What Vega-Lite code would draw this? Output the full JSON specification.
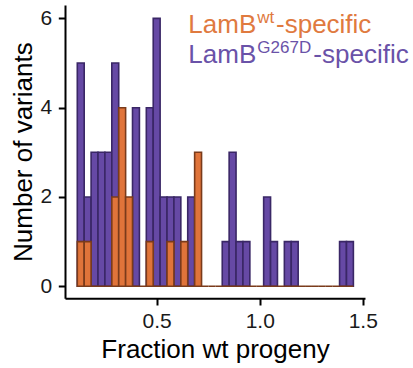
{
  "$schema": "https://vega.github.io/schema/vega-lite/v6.json",
  "width": 300,
  "height": 293.3,
  "autosize": "none",
  "padding": {"left": 65, "top": 5, "right": 48, "bottom": 69.7},
  "background": "white",
  "config": {"view": {"stroke": null}, "font": "Liberation Sans"},
  "datasets": {
    "g267d": [
      {"x0": 0.1146, "x1": 0.1481, "n": 5},
      {"x0": 0.1481, "x1": 0.1816, "n": 2},
      {"x0": 0.1816, "x1": 0.2151, "n": 3},
      {"x0": 0.2151, "x1": 0.2486, "n": 3},
      {"x0": 0.2486, "x1": 0.2821, "n": 3},
      {"x0": 0.2821, "x1": 0.3156, "n": 5},
      {"x0": 0.3826, "x1": 0.4161, "n": 4},
      {"x0": 0.4496, "x1": 0.4831, "n": 4},
      {"x0": 0.4831, "x1": 0.5166, "n": 6},
      {"x0": 0.5166, "x1": 0.5501, "n": 2},
      {"x0": 0.5501, "x1": 0.5836, "n": 2},
      {"x0": 0.5836, "x1": 0.6171, "n": 2},
      {"x0": 0.6506, "x1": 0.6841, "n": 2},
      {"x0": 0.8181, "x1": 0.8516, "n": 1},
      {"x0": 0.8516, "x1": 0.8851, "n": 3},
      {"x0": 0.8851, "x1": 0.9186, "n": 1},
      {"x0": 0.9186, "x1": 0.9521, "n": 1},
      {"x0": 1.0191, "x1": 1.0526, "n": 2},
      {"x0": 1.0526, "x1": 1.0861, "n": 1},
      {"x0": 1.1196, "x1": 1.1531, "n": 1},
      {"x0": 1.1531, "x1": 1.1866, "n": 1},
      {"x0": 1.3876, "x1": 1.4211, "n": 1},
      {"x0": 1.4211, "x1": 1.4546, "n": 1}
    ],
    "wt": [
      {"x0": 0.1146, "x1": 0.1481, "n": 1},
      {"x0": 0.1481, "x1": 0.1816, "n": 1},
      {"x0": 0.1816, "x1": 0.2151, "n": 0},
      {"x0": 0.2151, "x1": 0.2486, "n": 0},
      {"x0": 0.2486, "x1": 0.2821, "n": 0},
      {"x0": 0.2821, "x1": 0.3156, "n": 2},
      {"x0": 0.3156, "x1": 0.3491, "n": 4},
      {"x0": 0.3491, "x1": 0.3826, "n": 2},
      {"x0": 0.3826, "x1": 0.4161, "n": 0},
      {"x0": 0.4161, "x1": 0.4496, "n": 0},
      {"x0": 0.4496, "x1": 0.4831, "n": 1},
      {"x0": 0.4831, "x1": 0.5166, "n": 0},
      {"x0": 0.5166, "x1": 0.5501, "n": 0},
      {"x0": 0.5501, "x1": 0.5836, "n": 1},
      {"x0": 0.5836, "x1": 0.6171, "n": 0},
      {"x0": 0.6171, "x1": 0.6506, "n": 1},
      {"x0": 0.6506, "x1": 0.6841, "n": 0},
      {"x0": 0.6841, "x1": 0.7176, "n": 3},
      {"x0": 0.7176, "x1": 0.7511, "n": 0},
      {"x0": 0.7511, "x1": 0.7846, "n": 0},
      {"x0": 0.7846, "x1": 0.8181, "n": 0},
      {"x0": 0.8181, "x1": 0.8516, "n": 0},
      {"x0": 0.8516, "x1": 0.8851, "n": 0},
      {"x0": 0.8851, "x1": 0.9186, "n": 0},
      {"x0": 0.9186, "x1": 0.9521, "n": 0},
      {"x0": 0.9521, "x1": 0.9856, "n": 0},
      {"x0": 0.9856, "x1": 1.0191, "n": 0},
      {"x0": 1.0191, "x1": 1.0526, "n": 0},
      {"x0": 1.0526, "x1": 1.0861, "n": 0},
      {"x0": 1.0861, "x1": 1.1196, "n": 0},
      {"x0": 1.1196, "x1": 1.1531, "n": 0},
      {"x0": 1.1531, "x1": 1.1866, "n": 0},
      {"x0": 1.1866, "x1": 1.2201, "n": 0},
      {"x0": 1.2201, "x1": 1.2536, "n": 0},
      {"x0": 1.2536, "x1": 1.2871, "n": 0},
      {"x0": 1.2871, "x1": 1.3206, "n": 0},
      {"x0": 1.3206, "x1": 1.3541, "n": 0},
      {"x0": 1.3541, "x1": 1.3876, "n": 0},
      {"x0": 1.3876, "x1": 1.4211, "n": 0},
      {"x0": 1.4211, "x1": 1.4546, "n": 0}
    ]
  },
  "layer": [
    {
      "data": {"name": "g267d"},
      "mark": {"type": "bar", "fill": "#6649A5", "stroke": "#3A2766", "strokeWidth": 1.6},
      "encoding": {
        "x": {
          "field": "x0", "type": "quantitative",
          "scale": {"domain": [0.0549, 1.511], "nice": false, "zero": false},
          "axis": {
            "values": [0.5, 1.0, 1.5], "format": ".1f", "grid": false,
            "domainColor": "black", "domainWidth": 2, "tickColor": "black", "tickWidth": 2, "tickSize": 6.7,
            "labelFontSize": 21, "labelColor": "#1a1a1a", "labelPadding": 5, "labelFlush": false,
            "title": "Fraction wt progeny", "titleFontSize": 26, "titleFontWeight": "normal", "titleColor": "black", "titlePadding": 5
          }
        },
        "x2": {"field": "x1"},
        "y": {
          "field": "n", "type": "quantitative",
          "scale": {"domain": [-0.27, 6.3], "nice": false, "zero": false},
          "axis": {
            "values": [0, 2, 4, 6], "grid": false,
            "domainColor": "black", "domainWidth": 2, "tickColor": "black", "tickWidth": 2, "tickSize": 6.7,
            "labelFontSize": 21, "labelColor": "#1a1a1a", "labelPadding": 6.6, "labelFlush": false,
            "title": "Number of variants", "titleFontSize": 26, "titleFontWeight": "normal", "titleColor": "black", "titlePadding": 4
          }
        },
        "y2": {"datum": 0}
      }
    },
    {
      "data": {"name": "wt"},
      "mark": {"type": "bar", "fill": "#E0743A", "stroke": "#7A3B1B", "strokeWidth": 1.6},
      "encoding": {
        "x": {"field": "x0", "type": "quantitative"},
        "x2": {"field": "x1"},
        "y": {"field": "n", "type": "quantitative"},
        "y2": {"datum": 0}
      }
    },
    {
      "data": {"values": [{"t": "LamB"}]},
      "mark": {"type": "text", "align": "left", "baseline": "alphabetic", "fontSize": 26, "color": "#E07A3F"},
      "encoding": {"x": {"datum": 0.6534}, "y": {"datum": 5.665}, "text": {"field": "t"}}
    },
    {
      "data": {"values": [{"t": "wt"}]},
      "mark": {"type": "text", "align": "left", "baseline": "alphabetic", "fontSize": 17, "color": "#E07A3F", "dx": 69, "dy": -10.5},
      "encoding": {"x": {"datum": 0.6534}, "y": {"datum": 5.665}, "text": {"field": "t"}}
    },
    {
      "data": {"values": [{"t": "-specific"}]},
      "mark": {"type": "text", "align": "left", "baseline": "alphabetic", "fontSize": 26, "color": "#E07A3F", "dx": 87.7},
      "encoding": {"x": {"datum": 0.6534}, "y": {"datum": 5.665}, "text": {"field": "t"}}
    },
    {
      "data": {"values": [{"t": "LamB"}]},
      "mark": {"type": "text", "align": "left", "baseline": "alphabetic", "fontSize": 26, "color": "#6A52A8"},
      "encoding": {"x": {"datum": 0.6534}, "y": {"datum": 4.994}, "text": {"field": "t"}}
    },
    {
      "data": {"values": [{"t": "G267D"}]},
      "mark": {"type": "text", "align": "left", "baseline": "alphabetic", "fontSize": 17, "color": "#6A52A8", "dx": 69, "dy": -10.5},
      "encoding": {"x": {"datum": 0.6534}, "y": {"datum": 4.994}, "text": {"field": "t"}}
    },
    {
      "data": {"values": [{"t": "-specific"}]},
      "mark": {"type": "text", "align": "left", "baseline": "alphabetic", "fontSize": 26, "color": "#6A52A8", "dx": 125},
      "encoding": {"x": {"datum": 0.6534}, "y": {"datum": 4.994}, "text": {"field": "t"}}
    }
  ]
}
